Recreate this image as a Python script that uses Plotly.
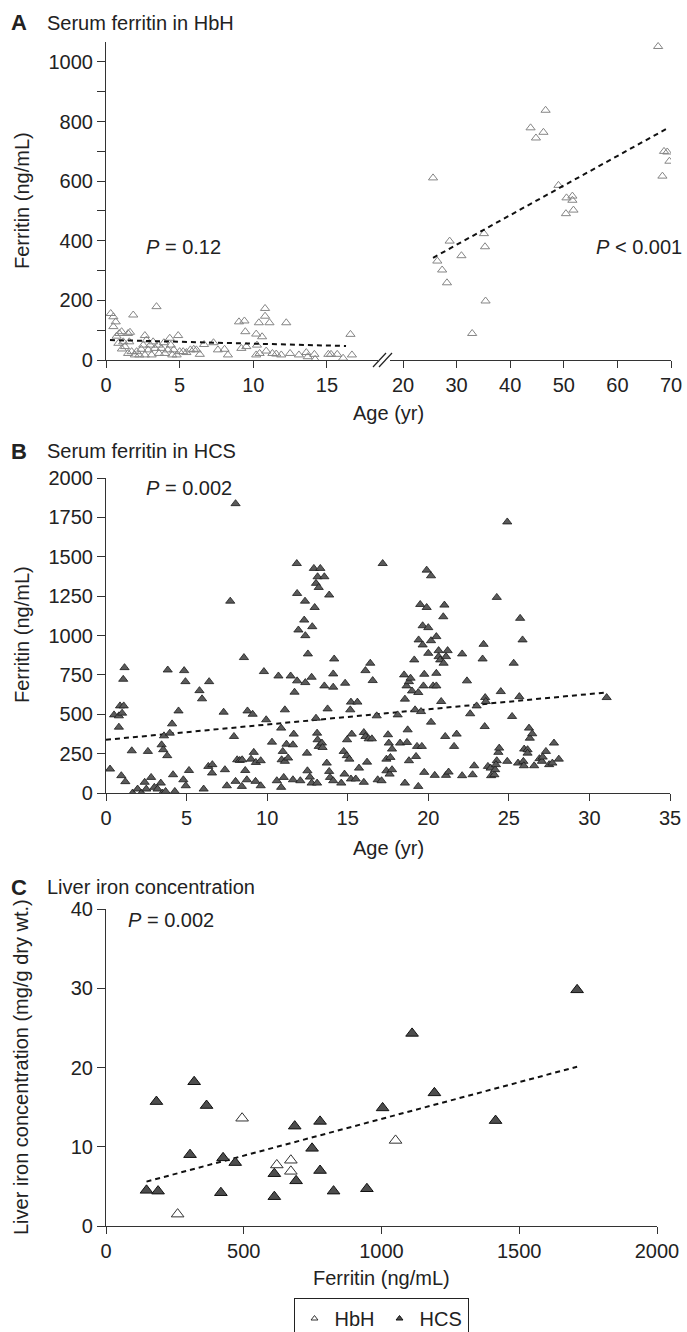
import plotly.graph_objects as go

W, H = 687, 1332
FONT = "Liberation Sans, Arial, sans-serif"
TXT = "#222222"

# ---------------- Panel A: serum ferritin in HbH ----------------
a_child_age = [0.32, 0.5, 0.66, 0.5, 0.72, 0.9, 1.06, 0.84, 1.17, 1.08, 1.29, 1.5, 1.63, 1.58, 1.5,
               1.74, 1.85, 1.96, 2.08, 2.26, 2.4, 2.53, 2.64, 2.75, 2.64, 2.87, 3.0, 3.1, 3.2, 3.32,
               3.43, 3.55, 3.6, 3.77, 3.93, 4.0, 4.2, 4.33, 4.4, 4.5, 4.6, 4.9, 4.8, 5.0, 5.24,
               5.46, 5.73, 5.96, 6.14, 6.37, 6.66, 7.3, 7.6, 8.05, 8.28, 9.03, 9.4, 9.46, 9.19, 9.53,
               10.2, 10.25, 10.2, 10.38, 10.6, 10.43, 10.8, 10.8, 10.88, 11.1, 11.3, 11.56, 11.9, 12.24,
               12.5, 13.1, 13.6, 13.7, 14.15, 14.2, 15.1, 15.28, 15.7, 16.1, 16.6, 16.7]
a_child_ferr = [156, 145, 128, 112, 80, 89, 95, 56, 61, 37, 45, 89, 93, 61, 22,
                28, 151, 17, 28, 17, 36, 50, 82, 67, 17, 34, 50, 17, 61, 39,
                179, 50, 22, 39, 58, 22, 34, 73, 50, 17, 34, 82, 17, 28, 28,
                25, 34, 36, 34, 19, 52, 58, 34, 36, 17, 128, 131, 95, 39, 45,
                87, 50, 17, 125, 78, 22, 173, 147, 30, 125, 22, 20, 17, 125,
                22, 17, 25, 11, 19, 2, 19, 19, 19, 6, 86, 17]
a_adult_age = [25.6, 26.4, 27.3, 28.2, 28.7, 30.9, 32.9, 35.1, 35.3, 35.4, 43.8, 44.8, 46.2, 46.6,
               49.0, 50.5, 50.4, 51.6, 51.6, 51.8, 67.6, 68.4, 68.7, 69.3, 69.7]
a_adult_ferr = [611, 332, 302, 259, 399, 350, 89, 424, 380, 198, 779, 745, 764, 838,
                586, 544, 491, 550, 536, 503, 1052, 617, 700, 698, 667]
a_fit_child_age = [0.27, 16.3]
a_fit_child_ferr = [67, 47]
a_fit_adult_age = [25.6, 69.5]
a_fit_adult_ferr = [343, 779]

# ---------------- Panel B: serum ferritin in HCS ----------------
b_age = [0.25, 0.5, 0.8, 0.8, 0.87, 1.0, 1.1, 1.07, 1.15, 0.95, 1.2, 1.6, 1.65, 1.96, 2.2, 2.4, 2.5,
         2.6, 2.8, 3.0, 3.2, 3.4, 3.45, 3.55, 3.5, 3.6, 3.8, 3.7, 3.83, 3.96, 4.1, 4.16, 4.27, 4.5,
         4.85, 4.93, 4.8, 4.95, 5.15, 5.8, 5.96, 6.4, 6.06, 6.35, 6.6, 6.58, 7.3, 7.38, 7.5, 7.71,
         7.94, 8.04, 8.04, 8.14, 8.3, 8.45, 8.43, 8.56, 8.64, 8.74, 8.78, 9.1, 9.0, 9.17, 9.3, 9.6,
         9.28, 9.6, 9.8, 9.94, 10.3, 10.6, 10.7, 10.87, 10.97, 10.9, 10.87, 11.03, 11.1, 11.1, 11.2,
         11.3, 11.46, 11.6, 11.65, 11.6, 11.7, 11.84, 11.86, 11.86, 11.94, 12.06, 12.35, 12.3, 12.37,
         12.37, 12.47, 12.53, 12.5, 12.65, 12.76, 12.8, 12.76, 12.9, 12.95, 13.03, 13.1, 13.03, 13.1,
         13.13, 13.2, 13.13, 13.2, 13.3, 13.4, 13.44, 13.55, 13.55, 13.7, 13.75, 13.85, 13.85, 13.9,
         14.16, 14.1, 14.1, 14.1, 14.75, 14.8, 14.84, 14.6,
         15.2, 15.6, 15.16, 15.25, 14.96, 14.94, 15.1, 15.2, 15.5, 15.7, 16.0, 16.0, 16.1, 16.3,
         16.5, 16.2, 16.1, 16.4, 16.55, 16.86, 16.8, 17.1, 17.17, 17.4, 17.4, 17.6, 17.5, 17.55,
         17.65, 17.75, 17.75, 18.1, 18.25, 18.5, 18.55, 18.55, 18.68, 18.72, 18.8, 18.65, 18.8,
         18.9, 18.99, 19.13, 19.18, 19.24, 19.3, 19.38, 19.38, 19.5, 19.4, 19.55, 19.6, 19.65,
         19.65, 19.75, 19.75, 19.7, 19.9, 19.9, 20.0, 20.0, 20.17, 20.17, 20.17, 20.3, 20.4, 20.5,
         20.5, 20.5, 20.64, 20.64, 20.8, 20.74, 20.93, 20.95, 21.0, 21.05, 21.1, 21.1, 21.2, 21.26,
         21.6, 21.76, 22.1, 22.1, 22.4, 22.6, 22.75, 22.85, 23.0, 23.37, 23.43, 23.5, 23.53, 23.57,
         23.7, 23.87, 23.9, 24.1, 24.15, 24.25, 24.25, 24.35, 24.4, 24.5, 24.2, 24.9, 24.9, 25.2,
         25.3, 25.65, 25.57, 25.7, 25.85, 25.9, 25.93, 25.95, 26.16, 26.16, 26.25, 26.3, 26.45,
         26.57, 26.9, 27.05, 27.1, 27.3, 27.5, 27.7, 27.8, 28.1, 31.07]
b_ferr = [152, 496, 490, 418, 553, 507, 553, 722, 796, 110, 72, 268, 0, 25, 0, 68, 25,
          264, 99, 36, 25, 63, 306, 275, 0, 363, 237, 10, 781, 380, 439, 116, 10, 521,
          777, 707, 84, 46, 143, 650, 598, 707, 25, 169, 180, 127, 513, 148, 46, 1218,
          359, 1837, 74, 211, 207, 211, 42, 860, 143, 84, 521, 500, 215, 258, 194, 205,
          74, 46, 771, 465, 323, 78, 743, 412, 264, 211, 36, 99, 528, 201, 310,
          222, 743, 84, 374, 306, 640, 1457, 1267, 712, 1035, 78, 1218, 1098, 999,
          701, 253, 883, 141, 101, 735, 1056, 63, 1426, 1178, 1331, 63, 475, 380,
          338, 296, 1373, 1305, 1426, 317, 289, 1373, 680, 190, 534, 1257, 137, 99,
          851, 756, 672, 78, 264, 120, 697, 63,
          577, 577, 528, 374, 338, 237, 215, 89, 89, 158, 68, 384, 359, 344,
          344, 196, 777, 824, 714, 84, 490, 78, 1457, 215, 141, 120, 370, 317,
          226, 279, 148, 496, 317, 750, 596, 63, 321, 401, 205, 680, 707,
          729, 648, 845, 528, 232, 296, 638, 42, 1197, 972, 517, 296, 940,
          1062, 754, 131, 680, 1415, 1178, 1050, 887, 1379, 967, 450, 680, 112, 993,
          760, 680, 904, 866, 581, 845, 1119, 824, 1193, 359, 112, 866, 904, 133,
          296, 374, 883, 110, 712, 503, 116, 173, 553, 851, 944, 422, 606, 581,
          169, 158, 110, 116, 148, 205, 1242, 258, 285, 644, 180, 1721, 201, 486,
          824, 612, 190, 1109, 972, 201, 173, 279, 275, 253, 412, 348, 376,
          173, 218, 201, 228, 264, 180, 190, 317, 215, 606]
b_fit_age = [0, 31]
b_fit_ferr = [338, 638]

# ---------------- Panel C: liver iron concentration ----------------
c_hcs_ferr = [147, 189, 183, 320, 365, 305, 417, 425, 469, 611, 611, 685, 690, 748, 777, 777,
              826, 947, 1004, 1111, 1192, 1414, 1710]
c_hcs_lic = [4.5, 4.4, 15.7, 18.2, 15.2, 9.0, 4.2, 8.6, 8.0, 6.6, 3.7, 12.6, 5.7, 9.8, 13.2, 7.0,
             4.4, 4.7, 14.9, 24.3, 16.8, 13.3, 29.8]
c_hbh_ferr = [260, 494, 620, 671, 671, 1051]
c_hbh_lic = [1.5, 13.6, 7.7, 8.3, 6.9, 10.8]
c_fit_ferr = [147, 1710]
c_fit_lic = [5.6, 20.1]

# ---------------- helpers ----------------
def dx(a, b):
    return [a / W, b / W]

def dy(top, bottom):
    return [1 - bottom / H, 1 - top / H]

def px(p):
    return p / W

def py(p):
    return 1 - p / H

open_tri = dict(symbol="triangle-up-open", size=8, color="#858585", line=dict(width=1, color="#858585"))
fill_tri = dict(symbol="triangle-up", size=8, color="#5a5a5a", line=dict(width=0.8, color="#1a1a1a"))
dash_line = dict(color="#111111", width=2, dash="5px,4px")

fig = go.Figure()
# Panel A
fig.add_trace(go.Scatter(x=a_child_age, y=a_child_ferr, mode="markers", marker=open_tri,
                         xaxis="x", yaxis="y", showlegend=False))
fig.add_trace(go.Scatter(x=a_fit_child_age, y=a_fit_child_ferr, mode="lines", line=dash_line,
                         xaxis="x", yaxis="y", showlegend=False))
fig.add_trace(go.Scatter(x=a_adult_age, y=a_adult_ferr, mode="markers", marker=open_tri,
                         xaxis="x2", yaxis="y", showlegend=False))
fig.add_trace(go.Scatter(x=a_fit_adult_age, y=a_fit_adult_ferr, mode="lines", line=dash_line,
                         xaxis="x2", yaxis="y", showlegend=False))
# Panel B
fig.add_trace(go.Scatter(x=b_fit_age, y=b_fit_ferr, mode="lines", line=dash_line,
                         xaxis="x3", yaxis="y3", showlegend=False))
fig.add_trace(go.Scatter(x=b_age, y=b_ferr, mode="markers", marker=fill_tri,
                         xaxis="x3", yaxis="y3", showlegend=False))
# Panel C
fig.add_trace(go.Scatter(x=c_fit_ferr, y=c_fit_lic, mode="lines", line=dash_line,
                         xaxis="x4", yaxis="y4", showlegend=False))
fig.add_trace(go.Scatter(x=c_hcs_ferr, y=c_hcs_lic, mode="markers",
                         marker=dict(symbol="triangle-up", size=11, color="#4d4d4d",
                                     line=dict(width=1, color="#111111")),
                         xaxis="x4", yaxis="y4", showlegend=False))
fig.add_trace(go.Scatter(x=c_hbh_ferr, y=c_hbh_lic, mode="markers",
                         marker=dict(symbol="triangle-up", size=11, color="white",
                                     line=dict(width=1, color="#333333")),
                         xaxis="x4", yaxis="y4", showlegend=False))
# legend entries
fig.add_trace(go.Scatter(x=[None], y=[None], mode="markers", name="HbH",
                         marker=dict(symbol="triangle-up", size=6, color="white",
                                     line=dict(width=1, color="#333333")),
                         xaxis="x4", yaxis="y4"))
fig.add_trace(go.Scatter(x=[None], y=[None], mode="markers", name="HCS",
                         marker=dict(symbol="triangle-up", size=6, color="#4d4d4d",
                                     line=dict(width=1, color="#111111")),
                         xaxis="x4", yaxis="y4"))

axis_common = dict(showgrid=False, zeroline=False, showline=True, linecolor="#333333", linewidth=1.2,
                   ticks="outside", tickcolor="#333333", tickwidth=1.2, automargin=False,
                   tickfont=dict(family=FONT, size=20, color=TXT), fixedrange=True)

fig.update_layout(
    width=W, height=H, margin=dict(l=0, r=0, t=0, b=0, pad=0, autoexpand=False),
    paper_bgcolor="white", plot_bgcolor="white",
    font=dict(family=FONT, size=20, color=TXT),
    xaxis=dict(axis_common, domain=dx(106, 378), range=[0, 18.47], tickvals=[0, 5, 10, 15],
               ticklen=7, anchor="y"),
    xaxis2=dict(axis_common, domain=dx(390, 671), range=[17.57, 70], tickvals=[20, 30, 40, 50, 60, 70],
                ticklen=7, anchor="y"),
    yaxis=dict(axis_common, domain=dy(42, 360), range=[0, 1067], tickvals=[0, 200, 400, 600, 800, 1000],
               ticklen=8, anchor="x",
               minor=dict(tickvals=[100, 300, 500, 700, 900], ticks="outside", ticklen=8,
                          tickcolor="#333333", tickwidth=1.2)),
    xaxis3=dict(axis_common, domain=dx(106, 670), range=[0, 35], dtick=5, tick0=0, ticklen=7, anchor="y3"),
    yaxis3=dict(axis_common, domain=dy(478, 793), range=[0, 2000], dtick=250, tick0=0, ticklen=8,
                anchor="x3"),
    xaxis4=dict(axis_common, domain=dx(106, 657), range=[0, 2000], dtick=500, tick0=0, ticklen=7,
                anchor="y4"),
    yaxis4=dict(axis_common, domain=dy(909, 1226), range=[0, 40], dtick=10, tick0=0, ticklen=8,
                anchor="x4"),
    legend=dict(orientation="h", xref="paper", yref="paper", x=px(381), y=py(1298),
                xanchor="center", yanchor="top", bordercolor="#222222", borderwidth=1,
                font=dict(family=FONT, size=20, color=TXT), bgcolor="white",
                itemwidth=30, tracegroupgap=0),
)

# axis break marks on panel A x axis
for x0 in (373, 379):
    fig.add_shape(type="line", xref="paper", yref="paper",
                  x0=px(x0), y0=py(367), x1=px(x0 + 13), y1=py(353),
                  line=dict(color="#222222", width=1.2))

ann = []
def text(x, y, s, size=20, xanchor="left", yanchor="middle", angle=0):
    ann.append(dict(x=px(x), y=py(y), xref="paper", yref="paper", text=s, showarrow=False,
                    xanchor=xanchor, yanchor=yanchor, textangle=angle,
                    font=dict(family=FONT, size=size, color=TXT)))

# titles
text(9, 23, "<b>A</b>", size=22)
text(45, 23, "Serum ferritin in HbH")
text(9, 451, "<b>B</b>", size=22)
text(45, 451, "Serum ferritin in HCS")
text(9, 887, "<b>C</b>", size=22)
text(45, 887, "Liver iron concentration")
# axis titles
text(388, 413, "Age (yr)", xanchor="center")
text(388, 848, "Age (yr)", xanchor="center")
text(381, 1278, "Ferritin (ng/mL)", xanchor="center")
text(22, 201, "Ferritin (ng/mL)", xanchor="center", angle=-90)
text(22, 635, "Ferritin (ng/mL)", xanchor="center", angle=-90)
text(21, 1067, "Liver iron concentration (mg/g dry wt.)", xanchor="center", angle=-90)
# p-values
text(144, 247, "<i>P</i> = 0.12")
text(684, 247, "<i>P</i> < 0.001", xanchor="right")
text(144, 488, "<i>P</i> = 0.002")
text(126, 920, "<i>P</i> = 0.002")

fig.update_layout(annotations=ann)
fig.write_html(
    "out.html",
    config={"displayModeBar": False},
    post_script=("document.documentElement.style.margin='0';document.body.style.margin='0';"
                 "document.body.style.padding='0';document.documentElement.style.overflow='hidden';"
                 "document.body.style.overflow='hidden';"),
)
